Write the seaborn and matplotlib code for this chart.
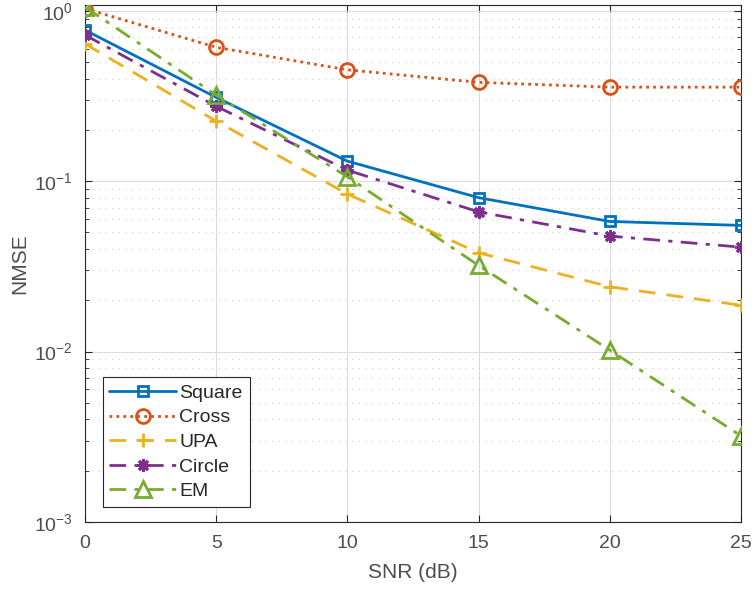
import numpy as np
import pandas as pd
import matplotlib
matplotlib.use("Agg")
import matplotlib.pyplot as plt
import seaborn as sns
from matplotlib.ticker import LogLocator, NullFormatter

# SNR points (dB)
snr = [0, 5, 10, 15, 20, 25]

# NMSE
nmse_square = [0.77, 0.31, 0.131, 0.080, 0.058, 0.055]
nmse_cross = [1.03, 0.61, 0.45, 0.38, 0.356, 0.356]
nmse_upa = [0.64, 0.225, 0.084, 0.038, 0.024, 0.0187]
nmse_circle = [0.72, 0.275, 0.116, 0.066, 0.0476, 0.041]
nmse_em = [1.05, 0.32, 0.106, 0.032, 0.0102, 0.0032]

labels = ["Square", "Cross", "UPA", "Circle", "EM"]
series = [nmse_square, nmse_cross, nmse_upa, nmse_circle, nmse_em]

df = pd.DataFrame({
    "SNR": snr * len(labels),
    "NMSE": sum(series, []),
    "method": np.repeat(labels, len(snr)),
})

# MATLAB default colour order
colors = ["#0072BD", "#D95319", "#EDB120", "#7E2F8E", "#77AC30"]
linestyles = ["-", (0, (1, 1.5)), (0, (6, 4)), (0, (6, 3, 1.5, 3)), (0, (6, 3, 1.5, 3))]
markers = ["s", "o", "+", (8, 2, 0), "^"]
msizes = [7, 10, 10, 9, 11]

sns.set_style("ticks")
plt.rcParams["font.family"] = ["Liberation Sans", "DejaVu Sans"]

fig = plt.figure(figsize=(7.54, 5.97), dpi=100)
ax = fig.add_axes([0.1127, 0.1256, 0.8701, 0.866])

for lab, col, ls, mk, ms in zip(labels, colors, linestyles, markers, msizes):
    sub = df[df["method"] == lab]
    sns.lineplot(data=sub, x="SNR", y="NMSE", ax=ax, color=col, linestyle=ls,
                 marker=mk, markersize=ms, markerfacecolor="none",
                 markeredgecolor=col, markeredgewidth=2, linewidth=2,
                 label=lab, zorder=3)

ax.set_yscale("log")
ax.set_xlim(0, 25)
ax.set_ylim(1e-3, 1.08)
ax.set_xticks(snr)
ax.set_yticks([1e-3, 1e-2, 1e-1, 1e0])
ax.yaxis.set_minor_locator(LogLocator(base=10, subs=np.arange(2, 10)))
ax.yaxis.set_minor_formatter(NullFormatter())

ax.grid(True, which="major", color="#dcdcdc", linewidth=0.8, linestyle="-")
ax.grid(True, which="minor", axis="y", color="#cfcfcf", linewidth=0.8,
        linestyle=(0, (1, 5)))
ax.set_axisbelow(True)

for sp in ax.spines.values():
    sp.set_color("#262626")
    sp.set_linewidth(0.8)
ax.tick_params(which="both", direction="in", top=True, right=True,
               colors="#262626", labelcolor="#4d4d4d", labelsize=14)
ax.tick_params(which="major", length=5, pad=9)
ax.tick_params(which="minor", length=3)

ax.set_xlabel("SNR (dB)", fontsize=15, color="#4d4d4d", labelpad=8)
ax.set_ylabel("NMSE", fontsize=15, color="#4d4d4d", labelpad=3)

leg = ax.legend(loc="lower left", bbox_to_anchor=(0.027, 0.029),
                borderaxespad=0, fontsize=14, handlelength=3.4,
                fancybox=False, framealpha=1, edgecolor="#262626",
                labelspacing=0.36, handletextpad=0.2, borderpad=0.35)
leg.get_frame().set_linewidth(0.8)

fig.savefig("out.png", dpi=100)
